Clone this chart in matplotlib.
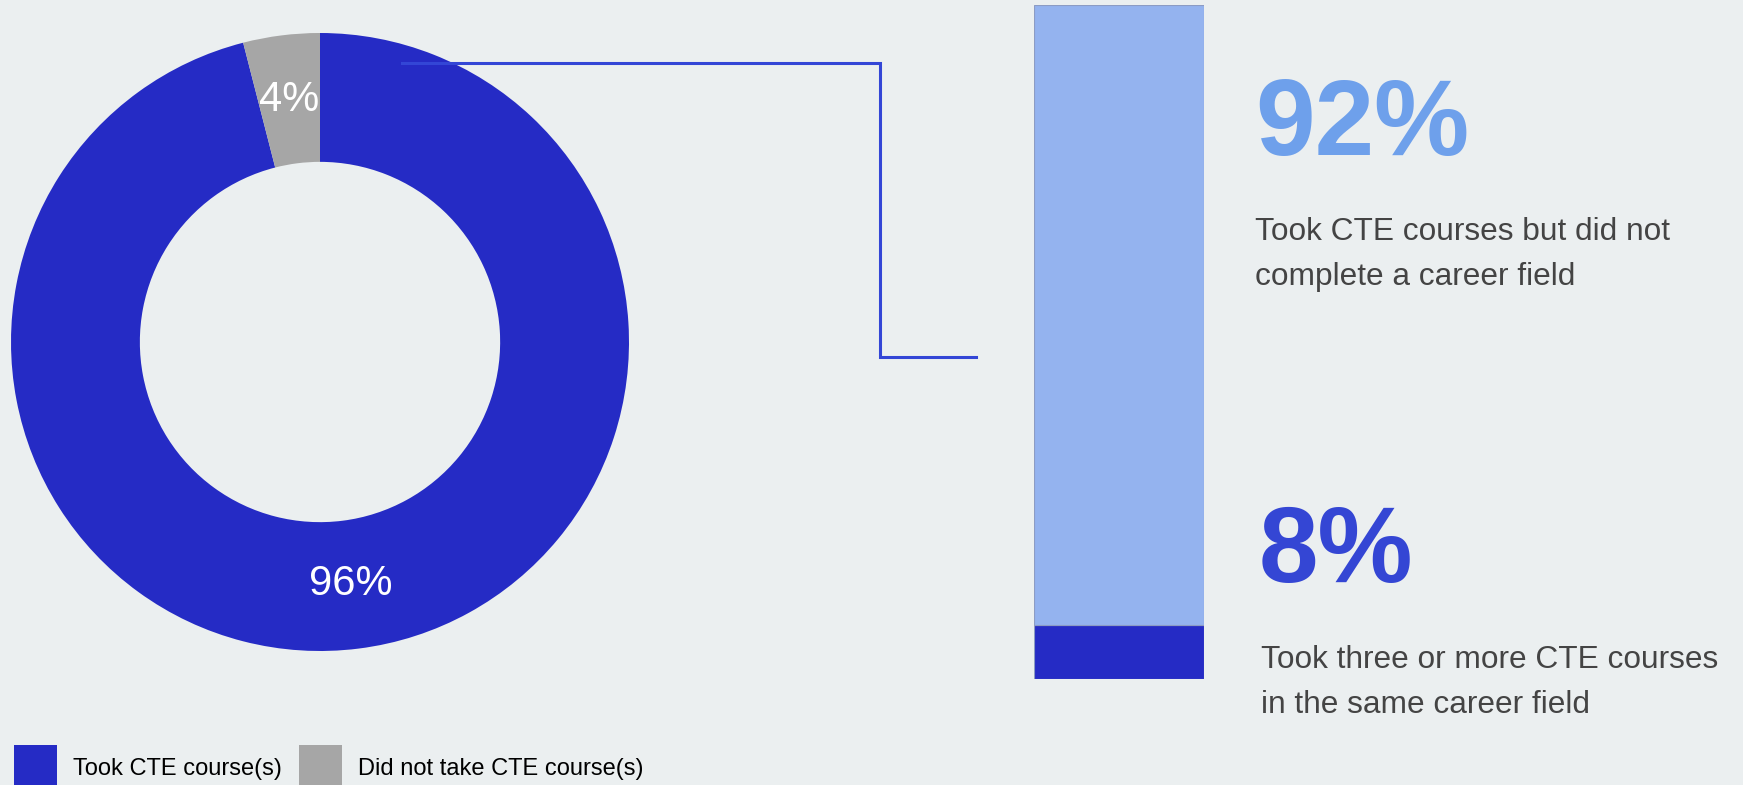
import matplotlib.pyplot as plt
from matplotlib.patches import Patch

plt.rcParams['font.family'] = ['Liberation Sans', 'DejaVu Sans']

# donut: share of students who took CTE courses
donut_labels = ['Took CTE course(s)', 'Did not take CTE course(s)']
donut_values = [96, 4]
donut_colors = ['#252bc5', '#a6a6a6']

# breakdown of the students who took CTE courses
bar_values = [8, 92]
bar_colors = ['#252bc5', '#94b3ef']
bar_text = ['Took three or more CTE courses\nin the same career field',
            'Took CTE courses but did not\ncomplete a career field']
big_colors = ['#3446d4', '#6ea0eb']

bg = '#ebeff0'
W, H = 1743, 785

fig = plt.figure(figsize=(W / 100, H / 100), dpi=100)
fig.patch.set_facecolor(bg)


def px_axes(x0, y0, x1, y1):
    # axes placed by pixel box (top-left origin)
    return fig.add_axes([x0 / W, 1 - y1 / H, (x1 - x0) / W, (y1 - y0) / H])


# donut
cx, cy, R = 320, 342, 309
ax = px_axes(cx - R, cy - R, cx + R, cy + R)
ax.set_facecolor('none')
wedges, texts, autotexts = ax.pie(
    donut_values, colors=donut_colors, startangle=90, counterclock=False,
    radius=1, wedgeprops=dict(width=0.417, linewidth=0),
    autopct=lambda p: '%d%%' % round(p), pctdistance=0.79,
    textprops=dict(color='white', fontsize=30))
ax.set_xlim(-1, 1)
ax.set_ylim(-1, 1)
ax.set_aspect('auto')
ax.axis('off')

# stacked bar
bx = px_axes(1034, 5, 1204, 679)
bx.set_facecolor('none')
bottom = 0
for v, c in zip(bar_values, bar_colors):
    bx.bar(0, v, width=1, bottom=bottom, color=c, edgecolor='#8c9cc4', linewidth=0.8)
    bottom += v
bx.set_xlim(-0.5, 0.5)
bx.set_ylim(0, sum(bar_values))
bx.axis('off')

# connector from donut to bar
line = plt.Line2D([402 / W, 880 / W, 880 / W, 976 / W],
                  [1 - 63 / H, 1 - 63 / H, 1 - 357 / H, 1 - 357 / H],
                  transform=fig.transFigure, color='#3346d6', linewidth=2.2,
                  solid_joinstyle='miter')
fig.add_artist(line)

# big numbers and descriptions
text_pos = [(1259, 582, 1261, 668), (1255, 155, 1255, 240)]
for v, c, desc, (nx, ny, dx, dy) in zip(bar_values, big_colors, bar_text, text_pos):
    fig.text(nx / W, 1 - ny / H, '%d%%' % v, color=c, fontsize=77,
             fontweight='bold', va='baseline', ha='left')
    for i, ln in enumerate(desc.split('\n')):
        fig.text(dx / W, 1 - (dy + i * 45) / H, ln, color='#444444',
                 fontsize=22.8, va='baseline', ha='left')

# legend along the bottom
handles = [Patch(facecolor=c, edgecolor='none') for c in donut_colors]
fig.legend(handles, donut_labels, loc='upper left',
           bbox_to_anchor=(14 / W, 1 - 745 / H), ncol=2, frameon=False,
           fontsize=17, handlelength=1.82, handleheight=2.6,
           handletextpad=0.68, columnspacing=0.72, borderpad=0,
           borderaxespad=0)

fig.savefig('out.png', dpi=100, facecolor=bg)
